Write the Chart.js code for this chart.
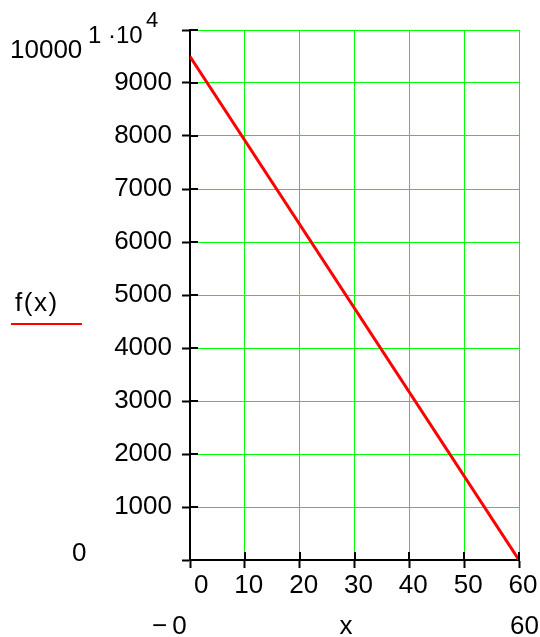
<!DOCTYPE html>
<html>
<head>
<meta charset="utf-8">
<script src="https://cdn.jsdelivr.net/npm/chart.js@4"></script>
<style>
  html, body { margin: 0; padding: 0; background: #fff; }
  #wrap { width: 540px; height: 637px; }
</style>
</head>
<body>
<div id="wrap"><canvas id="plot" width="540" height="637"></canvas></div>
<script>
// values
const xValues = [0, 60];
const fValues = [9500, 0];
const xTickStep = 10;
const yTickStep = 1000;
const xRange = [0, 60];
const yRange = [0, 10000];
const xRangeLabels = ['\u22120', '60'];
const yRangeLabels = ['0', '10000'];
const seriesName = 'f(x)';
const xName = 'x';

const FONT = '"Liberation Sans", Arial, sans-serif';

// inner halves of the tick marks + the mathcad style range labels
const extras = {
  id: 'extras',
  afterDraw(chart) {
    const { ctx, chartArea: a, scales: { x, y } } = chart;
    ctx.save();
    ctx.strokeStyle = '#000';
    ctx.lineWidth = 2;
    x.ticks.forEach(t => {
      const px = Math.round(x.getPixelForValue(t.value));
      ctx.beginPath(); ctx.moveTo(px, a.bottom); ctx.lineTo(px, a.bottom - 8); ctx.stroke();
    });
    y.ticks.forEach(t => {
      const py = Math.round(y.getPixelForValue(t.value));
      ctx.beginPath(); ctx.moveTo(a.left, py); ctx.lineTo(a.left + 8, py); ctx.stroke();
    });

    ctx.fillStyle = '#000';
    ctx.textBaseline = 'alphabetic';
    ctx.textAlign = 'left';
    ctx.font = '26px ' + FONT;
    ctx.fillText(yRangeLabels[1], 10, 58);
    ctx.fillText(yRangeLabels[0], 72, 561);
    ctx.fillText(xRangeLabels[1], 510, 634);
    ctx.textAlign = 'center';
    ctx.fillText(xName, 346, 634);
    ctx.textAlign = 'left';
    ctx.letterSpacing = '5px';
    ctx.fillText(xRangeLabels[0], 152, 634);

    // top tick label 1·10^4
    ctx.letterSpacing = '0px';
    ctx.font = '24px ' + FONT;
    ctx.fillText('1 \u00b710', 88, 43);
    ctx.font = '22px ' + FONT;
    ctx.fillText('4', 146, 27);

    // legend
    ctx.font = '26px ' + FONT;
    ctx.letterSpacing = '1.5px';
    ctx.fillText(seriesName, 15, 311);
    ctx.strokeStyle = '#ff0000';
    ctx.beginPath(); ctx.moveTo(11, 324); ctx.lineTo(82, 324); ctx.stroke();
    ctx.restore();
  }
};

new Chart(document.getElementById('plot'), {
  type: 'scatter',
  data: {
    datasets: [{
      label: seriesName,
      data: xValues.map((v, i) => ({ x: v, y: fValues[i] })),
      showLine: true,
      borderColor: '#ff0000',
      borderWidth: 3,
      pointRadius: 0,
      tension: 0
    }]
  },
  options: {
    responsive: false,
    animation: false,
    layout: { padding: { top: 30, right: 21, left: 0, bottom: 0 } },
    plugins: { legend: { display: false }, tooltip: { enabled: false } },
    scales: {
      x: {
        type: 'linear',
        min: xRange[0],
        max: xRange[1],
        afterFit: s => { s.height = 77; },
        grid: { color: '#00ff00', lineWidth: 1, tickColor: '#000', tickLength: 8, tickWidth: 2 },
        border: { color: '#000', width: 2 },
        ticks: {
          stepSize: xTickStep,
          color: '#000',
          padding: 2,
          labelOffset: 4,
          maxRotation: 0,
          autoSkip: false,
          font: { family: FONT, size: 26 },
          callback: v => v === 0 ? '  0' : String(v)
        }
      },
      y: {
        type: 'linear',
        min: yRange[0],
        max: yRange[1],
        afterFit: s => { s.width = 190; },
        grid: { color: '#00ff00', lineWidth: 1, tickColor: '#000', tickLength: 8, tickWidth: 2 },
        border: { color: '#000', width: 2 },
        ticks: {
          stepSize: yTickStep,
          color: '#000',
          padding: 10,
          autoSkip: false,
          font: { family: FONT, size: 26 },
          callback: v => (v === yRange[0] || v === yRange[1]) ? '' : String(v)
        }
      }
    }
  },
  plugins: [extras]
});
</script>
</body>
</html>
